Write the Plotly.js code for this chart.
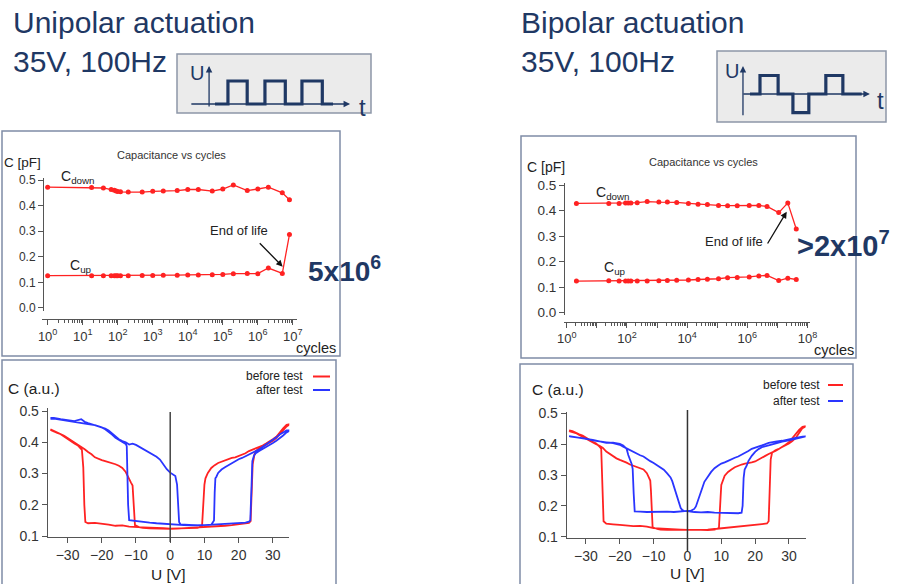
<!DOCTYPE html>
<html><head><meta charset="utf-8">
<script src="https://cdn.plot.ly/plotly-3.0.1.min.js"></script>
<style>html,body{margin:0;padding:0;background:#fff;}#chart{width:903px;height:584px;}</style>
</head><body><div id="chart"></div>
<script>
// ---- Capacitance vs cycles: unipolar ----
const uniCycles = [1, 18, 39, 65, 80, 90, 100, 120, 200, 500, 1000, 2000, 5000, 1e4, 2e4, 5e4, 1e5, 2e5, 5e5, 1e6, 2e6, 5e6, 8e6];
const uniCdown  = [0.472, 0.471, 0.469, 0.463, 0.460, 0.457, 0.455, 0.454, 0.453, 0.453, 0.456, 0.457, 0.459, 0.463, 0.463, 0.457, 0.465, 0.481, 0.459, 0.465, 0.472, 0.450, 0.423];
const uniCup    = [0.126, 0.126, 0.126, 0.126, 0.126, 0.126, 0.126, 0.126, 0.126, 0.127, 0.127, 0.128, 0.128, 0.129, 0.129, 0.130, 0.131, 0.134, 0.135, 0.134, 0.156, 0.135, 0.287];
// ---- Capacitance vs cycles: bipolar ----
const biCycles = [2.1, 25, 55, 90, 110, 135, 220, 470, 1150, 2200, 4500, 1.1e4, 2.3e4, 4.7e4, 1.1e5, 2.2e5, 4.6e5, 1.15e6, 2.4e6, 4.5e6, 1.1e7, 2.2e7, 4.2e7];
const biCdown  = [0.428, 0.428, 0.428, 0.430, 0.430, 0.430, 0.431, 0.435, 0.433, 0.433, 0.432, 0.428, 0.425, 0.424, 0.420, 0.419, 0.419, 0.420, 0.420, 0.416, 0.392, 0.430, 0.328];
const biCup    = [0.124, 0.125, 0.124, 0.124, 0.124, 0.124, 0.124, 0.124, 0.125, 0.126, 0.127, 0.128, 0.130, 0.131, 0.133, 0.137, 0.138, 0.140, 0.144, 0.146, 0.126, 0.135, 0.130];

// ---- C-V loops, unipolar panel ----
const uniBeforeV = [-35,-34,-33,-32,-31,-30,-29,-28,-27,-26,-25,-24,-23,-22,-21,-20,-19,-18,-17,-16,-15,-14,-13,-12.5,-12,-11.5,-11,-10.8,-10.6,-10.3,-9,-8,-6,-4,-2,0,2,4,6,8,10,12,14,16,18,20,22,23,23.5,23.8,24.1,24.6,25,26,27,28,29,30,31,32,33,34,35,
  34,33,32,31,30,29,28,27,26,25,24,23,22,21,20,19,18,17,16,15,14,13,12,11,10.3,10,9.8,9.6,9.3,8,6,4,2,0,-2,-4,-6,-8,-10,-12,-14,-16,-18,-20,-22,-24,-24.8,-25.1,-25.4,-25.8,-26.5,-27,-28,-29,-30,-31,-32,-33,-34,-35];
const uniBeforeC = [0.442,0.437,0.432,0.428,0.421,0.414,0.407,0.398,0.392,0.386,0.378,0.369,0.362,0.352,0.347,0.343,0.340,0.337,0.333,0.330,0.325,0.318,0.305,0.292,0.282,0.272,0.262,0.225,0.165,0.135,0.128,0.126,0.125,0.124,0.122,0.123,0.124,0.125,0.126,0.127,0.128,0.130,0.131,0.133,0.135,0.137,0.139,0.142,0.148,0.220,0.330,0.360,0.372,0.380,0.386,0.392,0.398,0.405,0.414,0.426,0.440,0.451,0.458,
  0.456,0.445,0.430,0.418,0.410,0.402,0.396,0.390,0.386,0.382,0.378,0.372,0.365,0.360,0.355,0.352,0.350,0.346,0.341,0.338,0.334,0.327,0.318,0.302,0.285,0.265,0.230,0.170,0.132,0.126,0.125,0.124,0.123,0.124,0.125,0.125,0.127,0.128,0.128,0.130,0.134,0.133,0.137,0.140,0.142,0.141,0.145,0.200,0.320,0.376,0.385,0.390,0.396,0.404,0.412,0.420,0.426,0.430,0.436,0.440];
const uniAfterV = [-35,-34,-32,-30,-28,-26,-25,-24,-22,-21,-20,-19,-18,-17,-16,-15,-14,-13,-12,-11,-10,-9,-8,-7,-6,-5,-4,-3,-2,-1,0,0.8,1.5,2,2.3,2.6,3,4,6,8,10,12,14,16,18,20,22,23,23.4,23.7,24,24.5,25,26,27,28,29,30,31,32,33,34,35,
  34,33,32,31,30,29,28,27,26,25,24,23,22,21,20,19,18,17,16,15,14,13.5,13.2,13,12.8,12,10,8,6,4,2,0,-2,-4,-6,-8,-10,-11,-12,-12.3,-12.5,-12.7,-13,-14,-15,-16,-17,-18,-19,-20,-21,-22,-24,-26,-28,-30,-32,-34,-35];
const uniAfterC = [0.478,0.478,0.474,0.471,0.468,0.474,0.466,0.462,0.455,0.453,0.450,0.444,0.438,0.428,0.420,0.410,0.404,0.400,0.393,0.396,0.392,0.386,0.380,0.374,0.367,0.362,0.354,0.345,0.328,0.314,0.303,0.298,0.292,0.265,0.200,0.145,0.137,0.136,0.135,0.134,0.135,0.136,0.137,0.138,0.139,0.141,0.143,0.146,0.150,0.240,0.340,0.358,0.365,0.372,0.378,0.386,0.392,0.398,0.405,0.413,0.422,0.432,0.438,
  0.438,0.432,0.425,0.416,0.408,0.400,0.392,0.385,0.378,0.372,0.366,0.360,0.355,0.350,0.346,0.340,0.334,0.328,0.320,0.313,0.302,0.290,0.285,0.240,0.150,0.136,0.135,0.134,0.134,0.135,0.136,0.137,0.139,0.141,0.143,0.146,0.148,0.149,0.151,0.200,0.330,0.388,0.395,0.402,0.408,0.415,0.425,0.435,0.442,0.448,0.452,0.455,0.458,0.462,0.465,0.469,0.473,0.476,0.475];

// ---- C-V loops, bipolar panel ----
const biBeforeV = [-35,-34,-33,-32,-31,-30,-29,-28,-27,-26,-25,-24,-23,-22,-21,-20,-19,-18,-17,-16,-15,-14,-13,-12,-11.5,-11,-10.8,-10.6,-10.3,-9,-8,-6,-4,-2,0,2,4,6,8,10,12,14,16,18,20,22,23.5,24,24.3,24.6,25,26,27,28,29,30,31,32,33,34,35,
  34,33,32,31,30,29,28,27,26,25,24,23,22,21,20,19,18,17,16,15,14,13,12,11,10.3,10,9.8,9.6,9.3,8,6,4,2,0,-2,-4,-6,-8,-10,-12,-14,-16,-18,-20,-22,-24,-24.8,-25,-25.2,-25.5,-26,-27,-28,-29,-30,-31,-32,-33,-34,-35];
const biBeforeC = [0.442,0.440,0.436,0.430,0.424,0.418,0.410,0.405,0.400,0.395,0.388,0.376,0.368,0.360,0.354,0.349,0.345,0.340,0.334,0.330,0.325,0.320,0.318,0.306,0.296,0.282,0.250,0.180,0.130,0.125,0.123,0.122,0.122,0.121,0.122,0.121,0.122,0.123,0.125,0.127,0.129,0.132,0.134,0.137,0.139,0.141,0.143,0.150,0.250,0.350,0.372,0.380,0.385,0.390,0.396,0.402,0.410,0.420,0.436,0.452,0.458,
  0.456,0.446,0.432,0.418,0.406,0.398,0.390,0.384,0.378,0.374,0.368,0.362,0.356,0.349,0.344,0.341,0.340,0.337,0.334,0.330,0.325,0.318,0.310,0.298,0.280,0.268,0.230,0.160,0.128,0.123,0.121,0.122,0.121,0.122,0.123,0.124,0.126,0.127,0.128,0.133,0.135,0.134,0.137,0.138,0.140,0.142,0.150,0.240,0.350,0.385,0.392,0.402,0.408,0.415,0.422,0.428,0.432,0.438,0.442,0.445];
const biAfterV = [-35,-34,-32,-30,-28,-26,-24,-22,-21,-20,-19,-18,-17,-16,-15,-14,-13,-12,-11,-10,-9,-8,-7,-6,-5,-4.5,-4,-3.5,-3,-2.5,-2,-1.5,-1,0,1,2,4,6,8,10,12,14,15,16,16.3,16.6,16.9,17.5,18,19,20,21,22,24,26,28,30,32,34,35,
  34,32,30,28,26,24,22,20,19,18,17,16,15,14,13,12,11,10,9,8,7,6,5,4.5,4,3.5,3,2.5,2,1.5,1,0,-2,-4,-6,-8,-10,-12,-14,-15,-15.6,-15.9,-16.2,-16.5,-17,-17.5,-18,-19,-20,-22,-24,-26,-28,-30,-32,-34,-35];
const biAfterC = [0.425,0.424,0.420,0.418,0.412,0.408,0.406,0.403,0.401,0.398,0.392,0.386,0.381,0.375,0.369,0.364,0.360,0.352,0.345,0.339,0.332,0.325,0.317,0.305,0.292,0.280,0.262,0.245,0.225,0.205,0.193,0.186,0.184,0.183,0.181,0.180,0.179,0.180,0.178,0.177,0.177,0.176,0.176,0.178,0.200,0.290,0.318,0.330,0.345,0.362,0.375,0.384,0.390,0.396,0.403,0.408,0.412,0.418,0.424,0.425,
  0.424,0.420,0.415,0.411,0.408,0.404,0.396,0.388,0.385,0.378,0.372,0.364,0.360,0.356,0.350,0.346,0.341,0.337,0.330,0.322,0.310,0.295,0.278,0.262,0.246,0.228,0.212,0.198,0.190,0.186,0.184,0.184,0.181,0.180,0.181,0.180,0.179,0.180,0.181,0.182,0.182,0.240,0.320,0.336,0.350,0.365,0.385,0.396,0.401,0.405,0.404,0.410,0.414,0.417,0.421,0.424,0.426];

// ---- actuation waveform sketches (time in ms, voltage in V) ----
const uniWaveT = [0, 3.5, 3.5, 8.7, 8.7, 13.5, 13.5, 19, 19, 23.5, 23.5, 29, 29, 31.9];
const uniWaveU = [0, 0, 35, 35, 0, 0, 35, 35, 0, 0, 35, 35, 0, 0];
const biWaveT = [0, 2.7, 2.7, 7.6, 7.6, 11.6, 11.6, 15.9, 15.9, 20.5, 20.5, 25.1, 25.1, 30.2];
const biWaveU = [0, 0, 35, 35, 0, 0, -35, -35, 0, 0, 35, 35, 0, 0];

// ---- tick labels ----
const uniDecades = [1, 10, 100, 1e3, 1e4, 1e5, 1e6, 1e7];
const uniDecadeText = ['10<sup>0</sup>','10<sup>1</sup>','10<sup>2</sup>','10<sup>3</sup>','10<sup>4</sup>','10<sup>5</sup>','10<sup>6</sup>','10<sup>7</sup>'];
const biDecades = [1, 10, 100, 1e3, 1e4, 1e5, 1e6, 1e7, 1e8];
const biDecadeText = ['10<sup>0</sup>','','10<sup>2</sup>','','10<sup>4</sup>','','10<sup>6</sup>','','10<sup>8</sup>'];
const capTicks = [0, 0.1, 0.2, 0.3, 0.4, 0.5];
const cvCTicks = [0.1, 0.2, 0.3, 0.4, 0.5];
const voltTicks = [-30, -20, -10, 0, 10, 20, 30];

function minorLog(n0, n1){ const v=[]; for(let e=n0;e<n1;e++){ for(let m=2;m<=9;m++) v.push(m*Math.pow(10,e)); } return v; }

const W=903, H=584;
const px = x => x/W;
const py = y => 1 - y/H;
const FONT = 'Liberation Sans, Arial, sans-serif';
const NAVY = '#1f3864';
const RED = '#ff2222';
const BLUE = '#2a35ff';
const AX = '#555';

const traces = [
  {x: uniCycles, y: uniCdown, xaxis:'x', yaxis:'y', mode:'lines+markers', line:{color:RED, width:1.3}, marker:{color:RED, size:5}},
  {x: uniCycles, y: uniCup, xaxis:'x', yaxis:'y', mode:'lines+markers', line:{color:RED, width:1.3}, marker:{color:RED, size:5}},
  {x: biCycles, y: biCdown, xaxis:'x2', yaxis:'y2', mode:'lines+markers', line:{color:RED, width:1.3}, marker:{color:RED, size:5}},
  {x: biCycles, y: biCup, xaxis:'x2', yaxis:'y2', mode:'lines+markers', line:{color:RED, width:1.3}, marker:{color:RED, size:5}},
  {x: uniBeforeV, y: uniBeforeC, xaxis:'x3', yaxis:'y3', mode:'lines', line:{color:RED, width:1.8}},
  {x: uniAfterV, y: uniAfterC, xaxis:'x3', yaxis:'y3', mode:'lines', line:{color:BLUE, width:1.8}},
  {x: biBeforeV, y: biBeforeC, xaxis:'x4', yaxis:'y4', mode:'lines', line:{color:RED, width:1.8}},
  {x: biAfterV, y: biAfterC, xaxis:'x4', yaxis:'y4', mode:'lines', line:{color:BLUE, width:1.8}},
  {x: uniWaveT, y: uniWaveU, xaxis:'x5', yaxis:'y5', mode:'lines', line:{color:NAVY, width:3.2}},
  {x: biWaveT, y: biWaveU, xaxis:'x6', yaxis:'y6', mode:'lines', line:{color:NAVY, width:3.2}}
];

function axBase(extra){
  return Object.assign({showline:true, linecolor:AX, linewidth:1, ticks:'outside', ticklen:5, tickcolor:AX,
    showgrid:false, zeroline:false, fixedrange:true, tickfont:{family:FONT, size:13, color:'#333'}}, extra);
}
const hidden = d => ({domain:d.domain, range:d.range, visible:false, fixedrange:true});

const layout = {
  width:W, height:H, margin:{l:0,r:0,t:0,b:0}, showlegend:false,
  paper_bgcolor:'#fff', plot_bgcolor:'rgba(0,0,0,0)',
  xaxis: axBase({type:'log', domain:[px(41.7), px(296.7)], range:[-0.17, 7.11], anchor:'free', position:py(319),
    tickmode:'array', tickvals:uniDecades, ticktext:uniDecadeText,
    minor:{tickmode:'array', tickvals:minorLog(0,7), ticks:'outside', ticklen:3, tickcolor:AX, showgrid:false}}),
  yaxis: axBase({domain:[py(311), py(178)], range:[-0.012, 0.508], anchor:'free', position:px(43),
    tickmode:'array', tickvals:capTicks, tickformat:'.1f', tickfont:{family:FONT, size:12, color:'#333'}}),
  xaxis2: axBase({type:'log', domain:[px(564), px(810)], range:[-0.09, 8.08], anchor:'free', position:py(321.7),
    tickmode:'array', tickvals:biDecades, ticktext:biDecadeText,
    minor:{tickmode:'array', tickvals:minorLog(0,8), ticks:'outside', ticklen:3, tickcolor:AX, showgrid:false}}),
  yaxis2: axBase({domain:[py(315), py(183.3)], range:[-0.009, 0.5067], anchor:'free', position:px(564),
    tickmode:'array', tickvals:capTicks, tickformat:'.1f', tickfont:{family:FONT, size:13.5, color:'#333'}}),
  xaxis3: axBase({domain:[px(47.7), px(289.3)], range:[-35.8, 34.8], anchor:'y3', tickmode:'array', tickvals:voltTicks,
    tickfont:{family:FONT, size:14, color:'#333'}}),
  yaxis3: axBase({domain:[py(536.7), py(408.3)], range:[0.098, 0.509], anchor:'x3', tickmode:'array', tickvals:cvCTicks, tickformat:'.1f',
    tickfont:{family:FONT, size:14, color:'#333'}}),
  xaxis4: axBase({domain:[px(566.7), px(805.7)], range:[-35.7, 34.95], anchor:'y4', tickmode:'array', tickvals:voltTicks,
    tickfont:{family:FONT, size:14, color:'#333'}}),
  yaxis4: axBase({domain:[py(538.3), py(411.7)], range:[0.0948, 0.5052], anchor:'x4', tickmode:'array', tickvals:cvCTicks, tickformat:'.1f',
    tickfont:{family:FONT, size:14, color:'#333'}}),
  xaxis5: hidden({domain:[px(177), px(371)], range:[-10.27, 42.16]}),
  yaxis5: hidden({domain:[py(113), py(54)], range:[-13.7, 76.1]}),
  xaxis6: hidden({domain:[px(717), px(886)], range:[-8.92, 36.76]}),
  yaxis6: hidden({domain:[py(122), py(51)], range:[-52.8, 81.2]}),
  shapes: [],
  annotations: []
};

const BOX = '#7f8ca6';
function rectPx(x0,y0,x1,y1,opt){
  return Object.assign({type:'rect', xref:'paper', yref:'paper', x0:px(x0), x1:px(x1), y0:py(y1), y1:py(y0),
    line:{color:BOX, width:1.5}, layer:'below'}, opt||{});
}
layout.shapes.push(rectPx(2,131,340,356));
layout.shapes.push(rectPx(2,360,336,600));
layout.shapes.push(rectPx(521,136,856,358));
layout.shapes.push(rectPx(520,364,853,600));
layout.shapes.push(rectPx(177,54,371,113,{fillcolor:'#ebebeb', line:{color:'#8d97a8', width:1.5}}));
layout.shapes.push(rectPx(717,51,886,122,{fillcolor:'#ebebeb', line:{color:'#8d97a8', width:1.5}}));
// zero-volt lines
layout.shapes.push({type:'line', xref:'x3', yref:'paper', x0:0, x1:0, y0:py(542), y1:py(412), line:{color:'#444', width:1.5}});
layout.shapes.push({type:'line', xref:'x4', yref:'paper', x0:0, x1:0, y0:py(552), y1:py(410), line:{color:'#333', width:1.5}});
// legend line samples
layout.shapes.push({type:'line', xref:'paper', yref:'paper', x0:px(313), x1:px(330), y0:py(376.5), y1:py(376.5), line:{color:RED, width:2}});
layout.shapes.push({type:'line', xref:'paper', yref:'paper', x0:px(313), x1:px(330), y0:py(390), y1:py(390), line:{color:BLUE, width:2}});
layout.shapes.push({type:'line', xref:'paper', yref:'paper', x0:px(828), x1:px(843), y0:py(385), y1:py(385), line:{color:RED, width:2}});
layout.shapes.push({type:'line', xref:'paper', yref:'paper', x0:px(828), x1:px(843), y0:py(401), y1:py(401), line:{color:BLUE, width:2}});

function txt(text, x, y, size, opt){
  return Object.assign({text:text, xref:'paper', yref:'paper', x:px(x), y:py(y), xanchor:'center', yanchor:'middle',
    showarrow:false, font:{family:FONT, size:size, color:'#222'}}, opt||{});
}
const A = layout.annotations;
// Titles
A.push(txt('Unipolar actuation', 11, 23, 30, {xanchor:'left', font:{family:FONT, size:30, color:NAVY}}));
A.push(txt('35V, 100Hz', 11, 62, 30, {xanchor:'left', font:{family:FONT, size:30, color:NAVY}}));
A.push(txt('Bipolar actuation', 519, 23, 30, {xanchor:'left', font:{family:FONT, size:30, color:NAVY}}));
A.push(txt('35V, 100Hz', 519, 62, 30, {xanchor:'left', font:{family:FONT, size:30, color:NAVY}}));
// waveform labels and arrows
A.push(txt('U', 197, 73, 20, {font:{family:FONT, size:20, color:NAVY}}));
A.push(txt('t', 362, 108, 24, {font:{family:FONT, size:24, color:NAVY}}));
A.push(txt('U', 732, 71, 20, {font:{family:FONT, size:20, color:NAVY}}));
A.push(txt('t', 880, 101, 24, {font:{family:FONT, size:24, color:NAVY}}));
function arrowAx(xr, yr, x, y, ax, ay){
  return {text:'', xref:xr, yref:yr, axref:xr, ayref:yr, x:x, y:y, ax:ax, ay:ay, showarrow:true,
    arrowhead:2, arrowsize:1, arrowwidth:1.3, arrowcolor:NAVY};
}
A.push(arrowAx('x5','y5', -1.6, 58, -1.6, -6));
A.push(arrowAx('x5','y5', 36.5, 0, -6.8, 0));
A.push(arrowAx('x6','y6', -1.9, 53, -1.9, -43));
A.push(arrowAx('x6','y6', 32.4, 0, -2.2, 0));

// top-left panel labels
A.push(txt('C [pF]', 22, 162, 13.5));
A.push(txt('Capacitance vs cycles', 171, 155, 11, {font:{family:FONT, size:11, color:'#333'}}));
A.push(txt('C<sub>down</sub>', 78, 177, 14));
A.push(txt('C<sub>up</sub>', 81, 266, 14));
A.push(txt('End of life', 239, 230, 13));
A.push({text:'', xref:'paper', yref:'paper', x:px(282.7), y:py(266.7), ax:-24.4, ay:-25, showarrow:true,
  arrowhead:2, arrowsize:1, arrowwidth:1.3, arrowcolor:'#111'});
A.push(txt('cycles', 316, 348, 14.5));
A.push(txt('<b>5x10<sup>6</sup></b>', 306, 269, 28, {xanchor:'left', font:{family:FONT, size:28, color:NAVY}}));
// top-right panel labels
A.push(txt('C [pF]', 546, 167, 14));
A.push(txt('Capacitance vs cycles', 703, 162, 11, {font:{family:FONT, size:11, color:'#333'}}));
A.push(txt('C<sub>down</sub>', 613, 193, 14));
A.push(txt('C<sub>up</sub>', 615, 268, 14));
A.push(txt('End of life', 733.5, 241, 13));
A.push({text:'', xref:'paper', yref:'paper', x:px(786.7), y:py(211.7), ax:-20, ay:33.3, showarrow:true,
  arrowhead:2, arrowsize:1, arrowwidth:1.3, arrowcolor:'#111'});
A.push(txt('cycles', 834, 350, 14.5));
A.push(txt('<b>>2x10<sup>7</sup></b>', 795, 244, 29, {xanchor:'left', font:{family:FONT, size:29, color:NAVY}}));
// bottom panels
A.push(txt('C (a.u.)', 34, 388, 15.5));
A.push(txt('before test', 305, 376, 12, {xanchor:'right'}));
A.push(txt('after test', 305, 390, 12, {xanchor:'right'}));
A.push(txt('U [V]', 168, 574, 15.5));
A.push(txt('C (a.u.)', 558, 389, 15.5));
A.push(txt('before test', 822, 385, 12, {xanchor:'right'}));
A.push(txt('after test', 822, 401, 12, {xanchor:'right'}));
A.push(txt('U [V]', 687, 573, 15.5));

Plotly.newPlot('chart', traces, layout, {staticPlot:true, displayModeBar:false});
</script></body></html>
